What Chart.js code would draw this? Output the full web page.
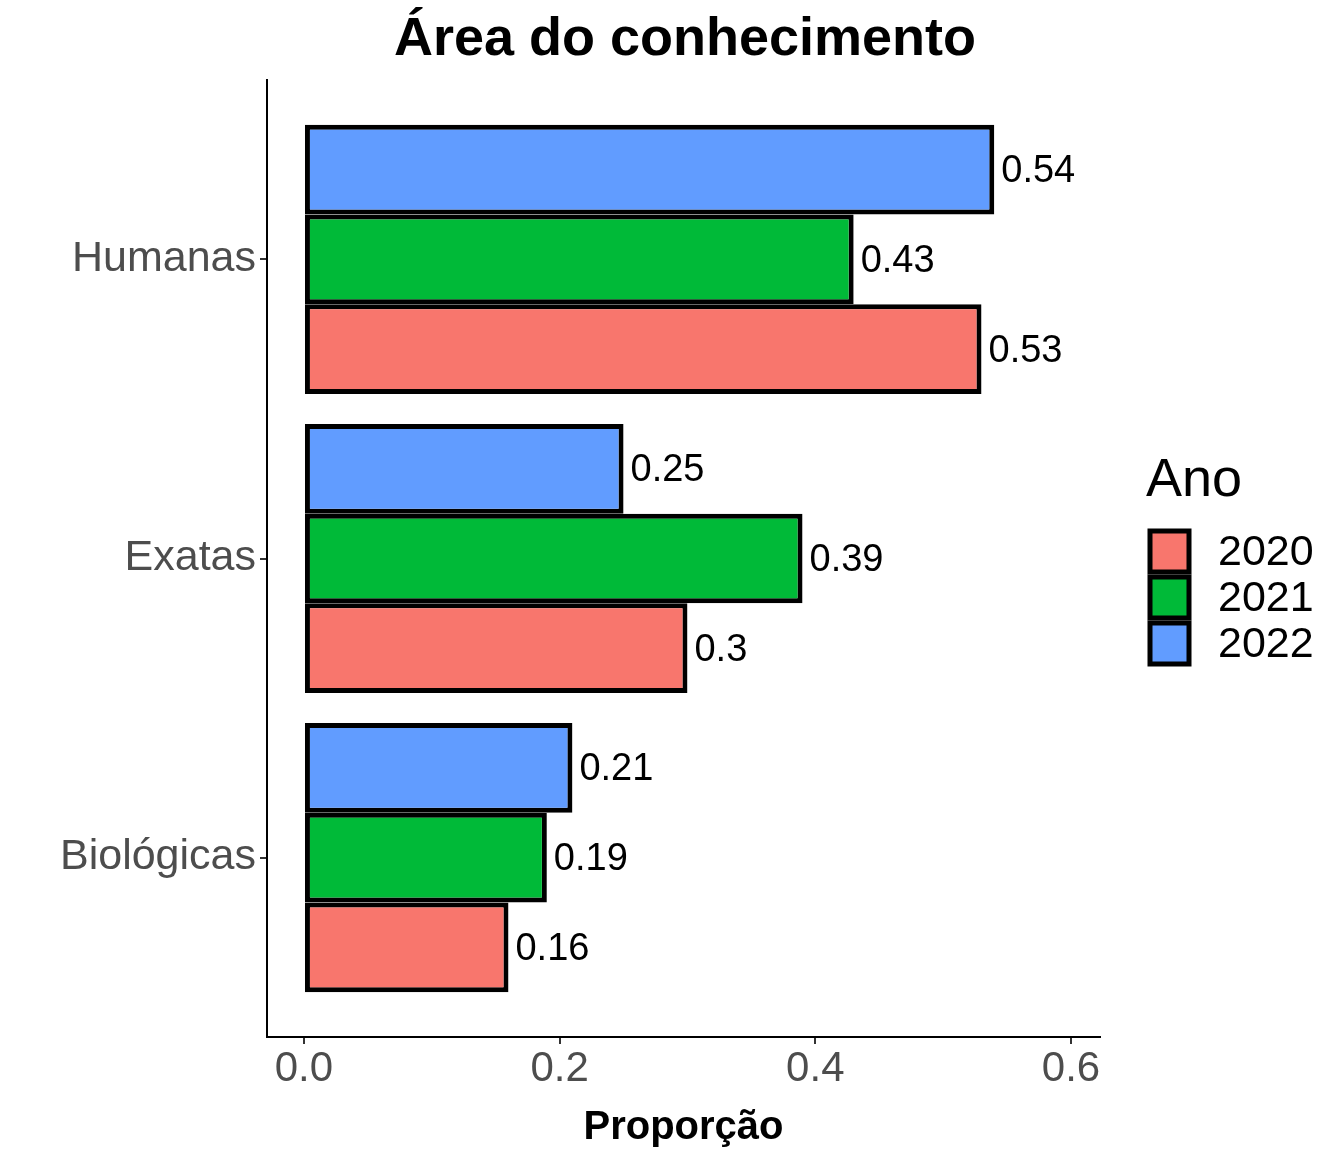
<!DOCTYPE html>
<html>
<head>
<meta charset="utf-8">
<script src="https://cdn.jsdelivr.net/npm/chart.js"></script>
<style>
  body { margin: 0; background: #fff; }
  #wrap { width: 1344px; height: 1152px; }
</style>
</head>
<body>
<div id="wrap"><canvas id="c" width="1344" height="1152"></canvas></div>
<script>
// categories, top to bottom
const categories = ['Humanas', 'Exatas', 'Biológicas'];
const years = ['2020', '2021', '2022'];
const colors = ['#F8766D', '#00BA38', '#619CFF'];
const values2020 = [0.53, 0.30, 0.16];
const values2021 = [0.43, 0.39, 0.19];
const values2022 = [0.54, 0.25, 0.21];
const xTicks = [0, 0.2, 0.4, 0.6];

const FONT = '"Liberation Sans", Arial, sans-serif';

function toPoints(vals) {
    return vals.map((v, i) => ({ x: v, y: i + 1 }));
}

// 2022 drawn first so it sits on top of each group
const seriesVals = [values2022, values2021, values2020];
const seriesCols = [colors[2], colors[1], colors[0]];

const datasets = seriesVals.map((vals, i) => ({
    label: years[2 - i],
    data: toPoints(vals),
    backgroundColor: seriesCols[i],
    borderColor: '#000',
    borderWidth: 5,
    borderSkipped: false,
    categoryPercentage: 0.9,
    barPercentage: 1.0
}));

const extras = {
    id: 'extras',
    afterDatasetsDraw(chart) {
        const ctx = chart.ctx;
        ctx.save();
        // value labels
        ctx.fillStyle = '#000';
        ctx.font = '38px ' + FONT;
        ctx.textBaseline = 'middle';
        ctx.textAlign = 'left';
        chart.data.datasets.forEach((ds, di) => {
            chart.getDatasetMeta(di).data.forEach((bar, i) => {
                ctx.fillText(String(ds.data[i].x), bar.x + 7, bar.y + 2);
            });
        });
        // title
        ctx.font = 'bold 54px ' + FONT;
        ctx.textAlign = 'center';
        ctx.textBaseline = 'alphabetic';
        ctx.fillText('Área do conhecimento', 685, 55);
        // legend
        ctx.textAlign = 'left';
        ctx.font = '54px ' + FONT;
        ctx.fillText('Ano', 1146, 496);
        ctx.font = '43px ' + FONT;
        years.forEach((y, i) => {
            const top = 531 + i * 46;
            ctx.fillStyle = colors[i];
            ctx.fillRect(1150, top, 39, 41);
            ctx.strokeStyle = '#000';
            ctx.lineWidth = 5;
            ctx.strokeRect(1150, top, 39, 41);
            ctx.fillStyle = '#000';
            ctx.textBaseline = 'middle';
            ctx.fillText(y, 1218, top + 22);
        });
        ctx.restore();
    }
};

new Chart(document.getElementById('c'), {
    type: 'bar',
    data: { datasets },
    plugins: [extras],
    options: {
        indexAxis: 'y',
        responsive: false,
        animation: false,
        layout: { padding: { top: 80, right: 244, left: 0, bottom: 0 } },
        plugins: { legend: { display: false }, tooltip: { enabled: false } },
        scales: {
            x: {
                type: 'linear',
                min: -0.0289,
                max: 0.6227,
                afterBuildTicks: s => { s.ticks = xTicks.map(v => ({ value: v })); },
                afterFit: s => { s.height = 115; },
                grid: { drawOnChartArea: false, drawTicks: true, tickLength: 7, color: '#333', lineWidth: 2 },
                border: { display: true, color: '#000', width: 2 },
                ticks: {
                    color: '#4d4d4d',
                    font: { family: FONT, size: 42 },
                    padding: 0,
                    callback: v => v.toFixed(1)
                },
                title: {
                    display: true,
                    text: 'Proporção',
                    color: '#000',
                    font: { family: FONT, size: 40, weight: 'bold' },
                    padding: { top: 0, bottom: 0 }
                }
            },
            y: {
                type: 'linear',
                reverse: true,
                offset: false,
                min: 0.4,
                max: 3.6,
                afterBuildTicks: s => { s.ticks = categories.map((c, i) => ({ value: i + 1 })); },
                afterFit: s => { s.width = 267; },
                grid: { drawOnChartArea: false, drawTicks: true, tickLength: 7, color: '#333', lineWidth: 2, offset: false },
                border: { display: true, color: '#000', width: 2 },
                ticks: {
                    color: '#4d4d4d',
                    font: { family: FONT, size: 43 },
                    padding: 4,
                    callback: v => categories[Math.round(v) - 1] || ''
                }
            }
        }
    }
});
</script>
</body>
</html>
